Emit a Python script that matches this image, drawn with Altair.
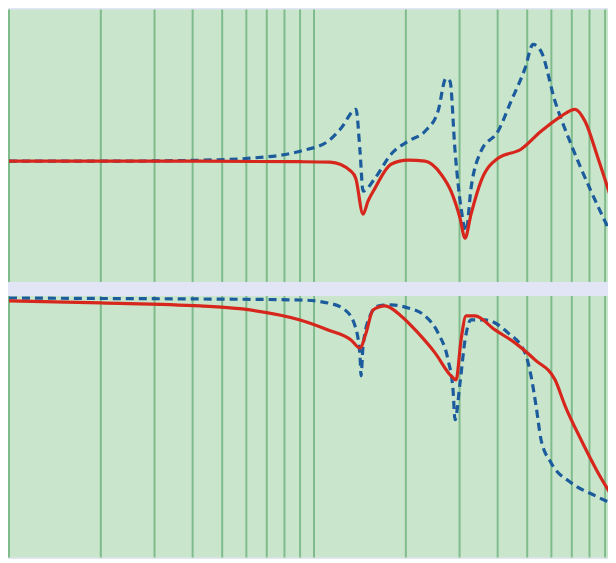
import altair as alt
import pandas as pd

# frequency grid (log axis)
grid_values = [1, 2, 3, 4, 5, 6, 7, 8, 9, 10, 20, 30, 40, 50, 60, 70, 80, 90]

# top panel
top_red_f = [1.0, 2.0, 4.23, 9.0, 11.29, 13.22, 13.7, 14.48, 15.03, 15.85, 17.88, 20.34, 23.12,
             26.09, 28.13, 30.11, 31.27, 32.72, 35.28, 40.11, 47.72, 55.5, 64.53, 71.74, 77.36, 85.32, 97.77]
top_red_v = [0, 0, 0, -0.005, -0.01, -0.10, -0.17, -0.53, -0.40, -0.27, -0.03, 0.01, 0.0,
             -0.13, -0.30, -0.57, -0.77, -0.53, -0.20, 0.03, 0.12, 0.30, 0.45, 0.52, 0.40, 0.03, -0.53]

top_blue_f = [1.0, 2.0, 4.23, 6.17, 9.0, 11.12, 12.26, 13.73, 14.15, 14.48, 15.85, 17.88, 20.34, 23.12,
              25.5, 27.09, 27.92, 29.0, 30.34, 31.51, 32.72, 35.28, 40.11, 44.25, 49.18, 52.24, 55.5,
              61.68, 69.6, 80.93, 97.77]
top_blue_v = [0, 0, 0.01, 0.03, 0.10, 0.20, 0.33, 0.52, 0.10, -0.30, -0.17, 0.07, 0.20, 0.30,
              0.50, 0.83, 0.80, 0.10, -0.47, -0.70, -0.27, 0.10, 0.30, 0.60, 0.93, 1.17, 1.10,
              0.60, 0.17, -0.30, -0.83]

# bottom panel
bot_red_f = [1.0, 2.0, 4.23, 6.17, 9.0, 11.12, 13.22, 14.15, 14.81, 15.61, 17.09, 19.29, 21.93, 24.93,
             28.13, 29.22, 30.34, 31.51, 33.72, 39.21, 45.6, 53.04, 61.68, 66.53, 75.06, 85.32, 97.77]
bot_red_v = [-0.03, -0.05, -0.08, -0.12, -0.22, -0.32, -0.42, -0.50, -0.35, -0.12, -0.08, -0.18, -0.35, -0.55,
             -0.78, -0.82, -0.42, -0.18, -0.18, -0.32, -0.45, -0.62, -0.82, -1.08, -1.42, -1.75, -2.05]

bot_blue_f = [1.0, 2.0, 4.23, 9.0, 11.12, 12.64, 13.63, 14.15, 14.26, 14.48, 15.26, 16.21, 17.88, 20.34,
              23.12, 25.5, 27.5, 28.56, 29.0, 30.11, 31.27, 32.72, 36.36, 43.26, 49.18, 51.45, 53.44,
              55.5, 59.84, 69.6, 83.41, 97.77]
bot_blue_v = [0, -0.005, -0.01, -0.02, -0.05, -0.12, -0.28, -0.58, -0.78, -0.48, -0.18, -0.08, -0.07, -0.10,
              -0.18, -0.35, -0.62, -0.92, -1.22, -0.85, -0.42, -0.22, -0.22, -0.35, -0.55, -0.78, -1.08,
              -1.42, -1.65, -1.85, -1.98, -2.08]

RED = "#d7261c"
BLUE = "#1d5c9c"
BG = "#c9e6cd"
GRID = "#80bb8c"
BAND = "#e2e5f5"

W = 600
xscale = alt.Scale(type="log", domain=[1, 92], nice=False)

grid_df = pd.DataFrame({"f": grid_values})


def panel(rf, rv, bf, bv, ydom, h):
    ysc = alt.Scale(domain=ydom, nice=False, zero=False)
    grid = alt.Chart(grid_df).mark_rule(color=GRID, strokeWidth=2).encode(
        x=alt.X("f:Q", scale=xscale, axis=None))
    red = alt.Chart(pd.DataFrame({"f": rf, "v": rv})).mark_line(
        color=RED, strokeWidth=3.2, interpolate="monotone", clip=True).encode(
        x=alt.X("f:Q", scale=xscale, axis=None),
        y=alt.Y("v:Q", scale=ysc, axis=None))
    blue = alt.Chart(pd.DataFrame({"f": bf, "v": bv})).mark_line(
        color=BLUE, strokeWidth=3.2, strokeDash=[8, 5], interpolate="monotone", clip=True).encode(
        x=alt.X("f:Q", scale=xscale, axis=None),
        y=alt.Y("v:Q", scale=ysc, axis=None))
    return alt.layer(grid, blue, red).properties(width=W, height=h)


top = panel(top_red_f, top_red_v, top_blue_f, top_blue_v, [-1.21, 1.52], 273)
bottom = panel(bot_red_f, bot_red_v, bot_blue_f, bot_blue_v, [-2.60, 0.02], 262)

chart = alt.vconcat(top, bottom, spacing=12).configure(
    background=BAND, padding=0).configure_view(fill=BG, stroke=None)

chart.save("out.html", embed_options={"renderer": "svg", "actions": False})
